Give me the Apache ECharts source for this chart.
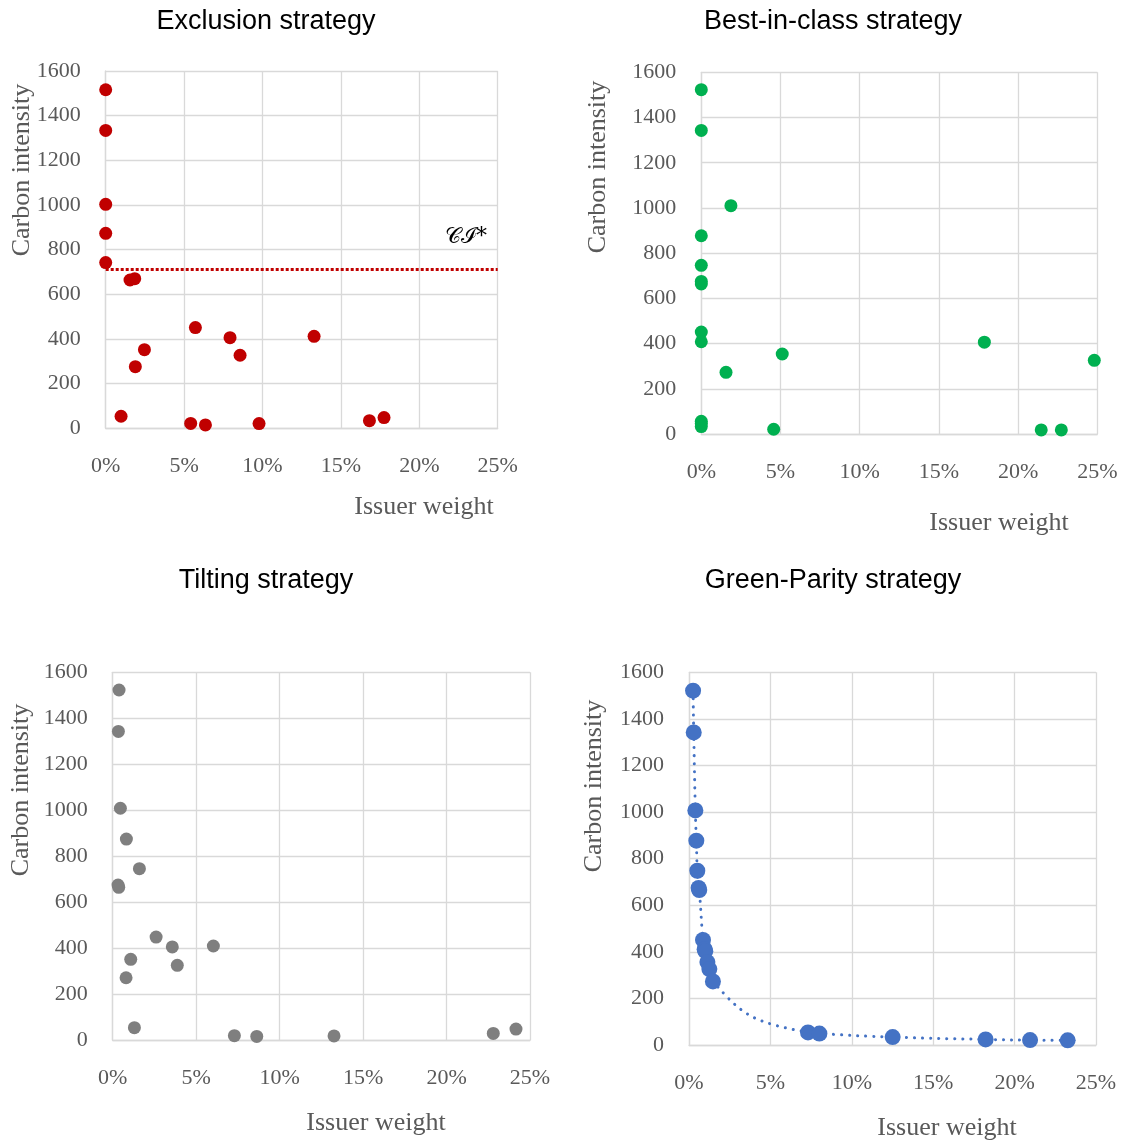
<!DOCTYPE html>
<html>
<head>
<meta charset="utf-8">
<script src="https://cdn.jsdelivr.net/npm/echarts@6/dist/echarts.min.js"></script>
<style>
  html, body { margin: 0; padding: 0; background: #fff; }
  #chart { width: 1125px; height: 1142px; }
</style>
</head>
<body>
<div id="chart"></div>
<script>
// Issuer weights (%) and carbon intensities for each portfolio strategy
const exclusionWeight = [0, 0, 0, 0, 0, 1.55, 1.85, 5.72, 2.47, 1.89, 7.93, 8.57, 13.29, 0.98, 5.42, 6.36, 9.78, 16.82, 17.75];
const exclusionCI     = [1516, 1334, 1003, 873, 742, 664, 670, 451, 352, 276, 406, 327, 412, 54, 22, 15, 21, 34, 48];
const ciThreshold = 710;

const bestWeight = [0, 0, 1.87, 0, 0, 0, 0, 0, 0, 5.11, 1.56, 17.87, 24.81, 0, 0, 0, 4.57, 21.46, 22.73];
const bestCI     = [1523, 1343, 1010, 877, 746, 675, 664, 451, 408, 354, 273, 406, 326, 56, 46, 33, 21, 18, 18];

const tiltWeight = [0.38, 0.34, 0.46, 0.82, 1.6, 0.32, 0.36, 2.6, 3.57, 6.03, 1.08, 3.87, 0.8, 1.3, 7.29, 8.63, 13.26, 22.8, 24.16];
const tiltCI     = [1523, 1343, 1009, 875, 746, 675, 665, 449, 406, 410, 352, 326, 272, 55, 20, 17, 19, 30, 49];

const parityWeight = [0.25, 0.29, 0.39, 0.45, 0.51, 0.59, 0.63, 0.86, 0.96, 1.0, 1.13, 1.25, 1.47, 7.31, 8.01, 12.51, 18.22, 20.95, 23.26];
const parityCI     = [1521, 1342, 1007, 877, 748, 674, 665, 451, 411, 403, 356, 326, 273, 54, 49, 34, 24, 21, 20];

const titles = ['Exclusion strategy', 'Best-in-class strategy', 'Tilting strategy', 'Green-Parity strategy'];
const xName = 'Issuer weight';
const yName = 'Carbon intensity';
const xMax = 25, xStep = 5;
const yMax = 1600, yStep = 200;

const pairs = (xs, ys) => xs.map((x, i) => [x, ys[i]]);

const TICK = '#595959';
const GRID = '#d9d9d9';
const SERIF = '"Liberation Serif", "Times New Roman", serif';
const SANS = '"Liberation Sans", Arial, sans-serif';

const grids = [
  { left: 105.7, top: 71,    width: 392,   height: 357.3 },
  { left: 701.3, top: 72.3,  width: 396,   height: 361.7 },
  { left: 112.7, top: 672.3, width: 417.3, height: 368 },
  { left: 689,   top: 672.3, width: 407,   height: 372.7 }
];

const xAxes = grids.map((g, i) => ({
  type: 'value', gridIndex: i, min: 0, max: xMax, interval: xStep,
  axisLine: { show: true, lineStyle: { color: GRID, width: 1.3 } },
  axisTick: { show: false },
  splitLine: { show: true, lineStyle: { color: GRID, width: 1.3 } },
  axisLabel: { formatter: v => v + '%', color: TICK, fontFamily: SERIF, fontSize: 22, margin: 27 }
}));
const yAxes = grids.map((g, i) => ({
  type: 'value', gridIndex: i, min: 0, max: yMax, interval: yStep,
  axisLine: { show: true, lineStyle: { color: GRID, width: 1.3 } },
  axisTick: { show: false },
  splitLine: { show: true, lineStyle: { color: GRID, width: 1.3 } },
  axisLabel: { formatter: v => String(v), color: TICK, fontFamily: SERIF, fontSize: 22, margin: 25 }
}));

const titlePos = [[266, 22], [833, 22], [266, 581], [833, 581]];
const yNamePos = [[22, 170], [598, 167], [21, 790], [594, 786]];
const xNamePos = [[424, 507], [999, 523], [376, 1123], [947, 1128]];

const graphics = [];
titles.forEach((t, i) => graphics.push({
  type: 'text', x: titlePos[i][0], y: titlePos[i][1],
  style: { text: t, fill: '#000', font: '27px ' + SANS, align: 'center', verticalAlign: 'middle' }
}));
yNamePos.forEach(p => graphics.push({
  type: 'text', x: p[0], y: p[1], rotation: Math.PI / 2,
  style: { text: yName, fill: TICK, font: '26px ' + SERIF, align: 'center', verticalAlign: 'middle' }
}));
xNamePos.forEach(p => graphics.push({
  type: 'text', x: p[0], y: p[1],
  style: { text: xName, fill: TICK, font: '26px ' + SERIF, align: 'center', verticalAlign: 'middle' }
}));
// threshold label next to the dotted line
graphics.push({
  type: 'text', x: 466, y: 237,
  style: { text: '\u{1D49E}\u2110*', fill: '#000', font: '22px "DejaVu Serif", serif', align: 'center', verticalAlign: 'middle' }
});

const option = {
  animation: false,
  backgroundColor: '#fff',
  grid: grids.map(g => Object.assign({ containLabel: false }, g)),
  xAxis: xAxes,
  yAxis: yAxes,
  graphic: graphics,
  series: [
    {
      type: 'scatter', xAxisIndex: 0, yAxisIndex: 0, symbolSize: 13,
      itemStyle: { color: '#c00000', opacity: 1 },
      data: pairs(exclusionWeight, exclusionCI),
      markLine: {
        silent: true, symbol: 'none', label: { show: false },
        lineStyle: { color: '#c00000', width: 3, type: [3, 2] },
        data: [{ yAxis: ciThreshold }]
      }
    },
    {
      type: 'scatter', xAxisIndex: 1, yAxisIndex: 1, symbolSize: 13,
      itemStyle: { color: '#00b050', opacity: 1 },
      data: pairs(bestWeight, bestCI)
    },
    {
      type: 'scatter', xAxisIndex: 2, yAxisIndex: 2, symbolSize: 13,
      itemStyle: { color: '#7f7f7f', opacity: 1 },
      data: pairs(tiltWeight, tiltCI)
    },
    {
      type: 'line', xAxisIndex: 3, yAxisIndex: 3, smooth: 0.6,
      symbol: 'circle', symbolSize: 16, showSymbol: true,
      itemStyle: { color: '#4472c4' },
      lineStyle: { color: '#4472c4', width: 3, type: [0.1, 8], cap: 'round' },
      data: pairs(parityWeight, parityCI)
    }
  ]
};

const chart = echarts.init(document.getElementById('chart'), null, { renderer: 'canvas' });
chart.setOption(option);
</script>
</body>
</html>
